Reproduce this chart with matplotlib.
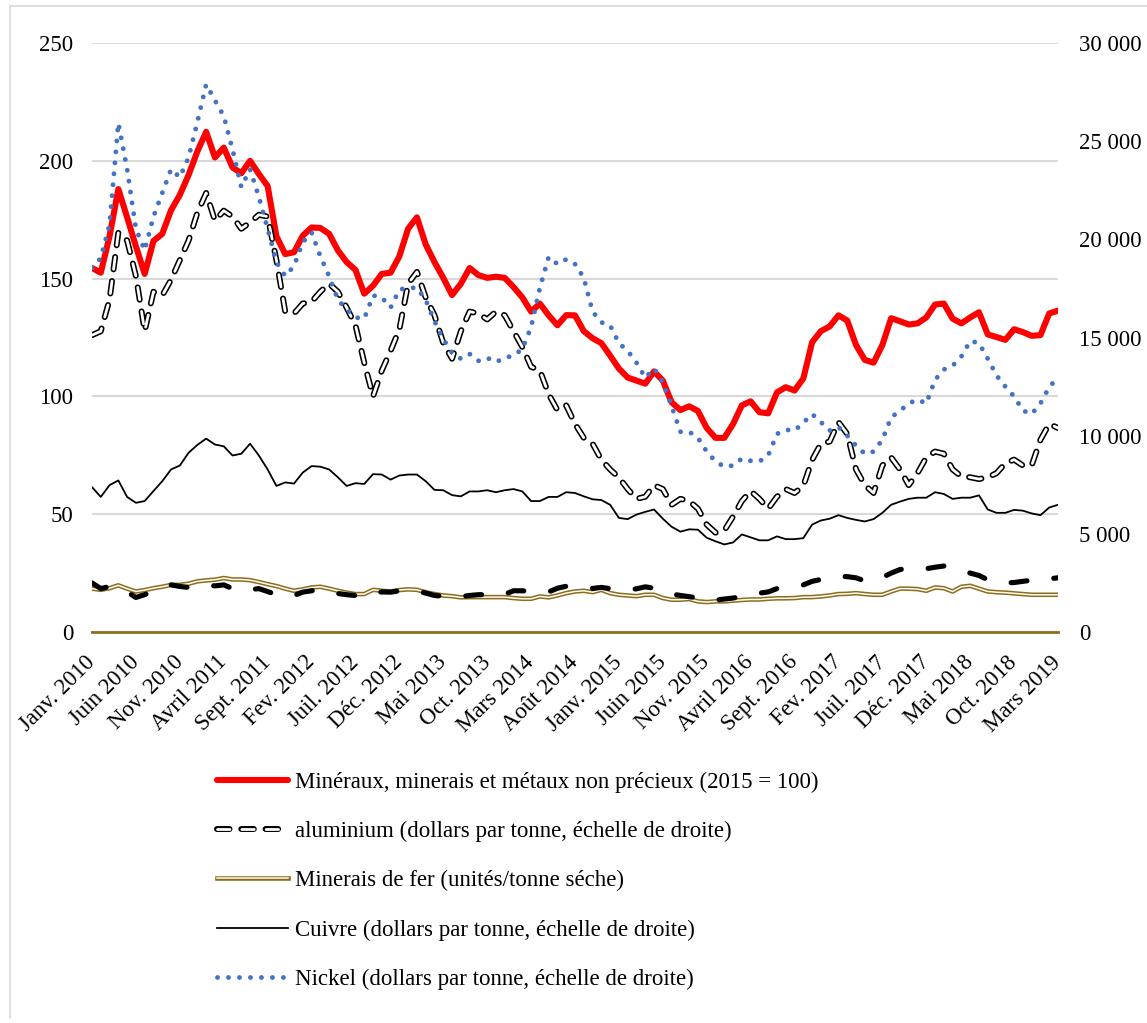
import matplotlib
matplotlib.use('Agg')
import matplotlib.pyplot as plt
import matplotlib.patheffects as pe
from matplotlib.transforms import ScaledTranslation
from matplotlib.lines import Line2D

plt.rcParams['font.family'] = ['Liberation Serif', 'DejaVu Serif']
plt.rcParams['lines.scale_dashes'] = False

# Tick labels every 5 months (Jan 2010 .. Mar 2019, 111 months)
tick_labels = ["Janv. 2010", "Juin 2010", "Nov. 2010", "Avril 2011", "Sept. 2011",
               "Fev. 2012", "Juil. 2012", "Déc. 2012", "Mai 2013", "Oct. 2013",
               "Mars 2014", "Août 2014", "Janv. 2015", "Juin 2015", "Nov. 2015",
               "Avril 2016", "Sept. 2016", "Fev. 2017", "Juil. 2017", "Déc. 2017",
               "Mai 2018", "Oct. 2018", "Mars 2019"]

# Left axis (index 2015 = 100)
mineraux = [154.5, 152.5, 168, 188, 176, 163.7, 152, 166, 169, 179,
            185.5, 194, 204, 212.3, 201.4, 205.6, 197.2, 194.7, 200, 194.4,
            189.3, 168, 160.4, 161.2, 168.2, 171.7, 171.5, 169, 162, 157,
            153.7, 143.6, 147, 152, 152.5, 159.5, 171.2, 176, 164.5, 157,
            150.3, 143, 147.8, 154.5, 151.5, 150.3, 150.8, 150.3, 146.4, 142,
            136, 139.4, 134.4, 130.2, 134.5, 134.4, 127.7, 124.7, 122.6, 117.3,
            111.8, 108, 106.7, 105.4, 110.6, 106.7, 97.5, 94.2, 95.8, 93.8,
            86.6, 82.4, 82.4, 88.3, 96.2, 97.9, 93.3, 92.8, 101.7, 103.9,
            102.5, 107.6, 123, 127.7, 129.7, 134.4, 132.2, 121.8, 115.5, 114.3,
            121.8, 133.2, 131.9, 130.5, 131, 133.5, 139, 139.4, 133, 131,
            133.5, 135.7, 126.3, 125.2, 124, 128.5, 127.3, 125.7, 126, 135.2, 136.4]

# Left axis
minerais_fer = [18.4, 17.9, 18.6, 19.8, 18.4, 17.2, 17.8, 18.6, 19.2, 20,
                20, 20.5, 21.5, 21.9, 22.2, 22.9, 22.3, 22.3, 22, 21.2,
                20.3, 19.5, 18.4, 17.5, 18.1, 18.9, 19.2, 18.4, 17.5, 16.7,
                16.1, 16.1, 17.9, 17.5, 17.2, 17.8, 18.1, 17.9, 16.9, 16.1,
                15.5, 15.2, 14.7, 14.8, 14.8, 14.8, 14.8, 14.8, 14.4, 14.1,
                14.1, 15.1, 14.7, 15.5, 16.5, 17.2, 17.5, 16.9, 17.9, 16.5,
                15.8, 15.5, 15.2, 15.8, 15.8, 14.4, 13.7, 13.7, 14, 13,
                12.7, 13, 13, 13.3, 13.6, 13.8, 13.8, 14.1, 14.3, 14.3,
                14.4, 14.8, 14.8, 15.1, 15.5, 16.1, 16.2, 16.5, 16.1, 15.8,
                15.8, 17.2, 18.4, 18.4, 18.2, 17.5, 18.9, 18.6, 17.2, 19.2,
                19.6, 18.4, 17.2, 16.9, 16.7, 16.4, 16.1, 15.8, 15.8, 15.8, 15.8]

# Right axis (dollars per tonne)
aluminium = [15120, 15320, 16930, 20350, 19940, 18130, 15320, 17330, 17140, 17940,
             18940, 19940, 21360, 22360, 20950, 21460, 21160, 20540, 20860, 21250,
             21160, 18940, 16320, 16220, 16730, 16820, 17330, 17740, 17330, 16520,
             15620, 13720, 12000, 13320, 14320, 15420, 17740, 18340, 17040, 16130,
             14720, 13920, 15320, 16320, 16220, 15920, 16320, 16130, 15320, 14520,
             13510, 13320, 12110, 11300, 11540, 10600, 9890, 9590, 8780, 8280,
             7870, 7280, 6780, 6890, 7480, 7280, 6480, 6780, 6670, 6280,
             5470, 5060, 5170, 5880, 6670, 7180, 6780, 6280, 6890, 7280,
             7080, 7440, 8760, 9590, 9700, 10690, 10090, 8280, 7480, 7080,
             8480, 8890, 8280, 7480, 8090, 8890, 9190, 9080, 8280, 7920,
             7880, 7790, 7880, 8090, 8590, 8780, 8480, 8480, 9790, 10600, 10390]

cuivre = [7380, 6880, 7480, 7720, 6880, 6580, 6670, 7180, 7680, 8280,
          8480, 9130, 9530, 9850, 9550, 9460, 8990, 9080, 9590, 8990,
          8280, 7440, 7620, 7560, 8120, 8450, 8420, 8280, 7880, 7440,
          7580, 7540, 8040, 8020, 7760, 7970, 8020, 8020, 7680, 7240,
          7220, 6970, 6910, 7160, 7160, 7220, 7120, 7220, 7280, 7160,
          6670, 6670, 6880, 6880, 7120, 7080, 6910, 6760, 6720, 6480,
          5810, 5750, 5980, 6120, 6240, 5770, 5360, 5110, 5230, 5210,
          4800, 4620, 4460, 4560, 4970, 4820, 4670, 4670, 4870, 4730,
          4730, 4780, 5470, 5680, 5770, 5950, 5810, 5710, 5630, 5750,
          6070, 6480, 6640, 6780, 6840, 6840, 7120, 7030, 6780, 6840,
          6840, 6960, 6240, 6070, 6070, 6220, 6180, 6040, 5950, 6340, 6480]

nickel = [18540, 19040, 20760, 25920, 23570, 20540, 19440, 21160, 22360, 23570,
          23160, 24170, 25980, 27890, 27080, 26280, 24580, 22660, 23570, 22160,
          20540, 18840, 18130, 18640, 19850, 20350, 19140, 18120, 16920, 16430,
          16020, 15960, 17140, 17040, 16520, 17440, 17530, 17530, 16920, 15830,
          14920, 14220, 13920, 14160, 13810, 13960, 13750, 13960, 14080, 14410,
          15530, 17530, 19100, 18740, 18980, 18740, 18040, 16320, 15770, 15620,
          14710, 14320, 13720, 12950, 13420, 12710, 11500, 10200, 10200, 9890,
          9190, 8690, 8420, 8480, 8830, 8720, 8690, 8990, 10090, 10300,
          10260, 10660, 11100, 10690, 10260, 10440, 10000, 9490, 9080, 9190,
          9790, 10940, 11260, 11640, 11840, 11640, 12840, 13370, 13560, 14040,
          14820, 14720, 13920, 13070, 12500, 12000, 11280, 11100, 11640, 12480, 12960]

# Unlabelled thick dashed series (right axis)
serie_sans_legende = [2500, 2210, 2320, 2160, 2040, 1760, 1900, 2100, 2280, 2400,
                      2320, 2270, 2340, 2400, 2350, 2400, 2210, 2100, 2160, 2210,
                      2060, 1900, 1800, 1860, 2030, 2100, 2140, 2040, 1960, 1900,
                      1860, 1810, 1980, 2040, 2030, 2100, 2150, 2100, 1980, 1860,
                      1820, 1800, 1800, 1860, 1900, 1900, 1860, 1920, 2100, 2100,
                      2060, 2030, 2040, 2230, 2330, 2350, 2280, 2220, 2270, 2210,
                      2170, 2150, 2200, 2300, 2230, 2140, 1940, 1860, 1800, 1730,
                      1660, 1620, 1680, 1730, 1810, 1900, 1980, 2040, 2210, 2270,
                      2340, 2400, 2580, 2680, 2750, 2830, 2820, 2760, 2600, 2640,
                      2780, 3000, 3180, 3250, 3250, 3220, 3300, 3360, 3290, 3170,
                      3000, 2880, 2660, 2580, 2500, 2520, 2580, 2640, 2640, 2710, 2760]

labels = ["Minéraux, minerais et métaux non précieux (2015 = 100)",
          "aluminium (dollars par tonne, échelle de droite)",
          "Minerais de fer (unités/tonne séche)",
          "Cuivre (dollars par tonne, échelle de droite)",
          "Nickel (dollars par tonne, échelle de droite)"]

W, H = 1147, 1023
fig = plt.figure(figsize=(W / 100, H / 100), dpi=100)
ax = fig.add_axes([92 / W, 1 - 632 / H, (1058 - 92) / W, (632 - 43) / H])
ax2 = ax.twinx()

x = list(range(len(mineraux)))
GOLD = '#8C6D1F'
FS = 16.5

l_min, = ax.plot(x, mineraux, color='#FF0000', lw=4.4, solid_joinstyle='round',
                 solid_capstyle='round', label=labels[0])
l_fer, = ax.plot(x, minerais_fer, color='#FFFDF2', lw=1.1, solid_joinstyle='round',
                 path_effects=[pe.Stroke(linewidth=3.3, foreground=GOLD), pe.Normal()],
                 label=labels[2])

l_alu, = ax2.plot(x, aluminium, color='white', lw=2.0, linestyle=(0, (9.0, 8.5)),
                  dash_capstyle='round', dash_joinstyle='round',
                  path_effects=[pe.Stroke(linewidth=4.3, foreground='black'), pe.Normal()],
                  label=labels[1])
ax2.plot(x, serie_sans_legende, color='black', lw=3.7, linestyle=(0, (11.5, 19.4)),
         dash_capstyle='round', label='_nolegend_')
l_cu, = ax2.plot(x, cuivre, color='black', lw=1.3, solid_joinstyle='round', label=labels[3])
l_ni, = ax2.plot(x, nickel, color='#4472C4', lw=3.5, linestyle=(0, (0.01, 7.9)),
                 dash_capstyle='round', label=labels[4])

ax.set_xlim(0, 110)
ax.set_ylim(0, 250)
ax2.set_ylim(0, 30000)
ax.set_yticks([0, 50, 100, 150, 200, 250])
ax2.set_yticks([0, 5000, 10000, 15000, 20000, 25000, 30000])
ax2.set_yticklabels([f"{v:,}".replace(',', ' ') for v in [0, 5000, 10000, 15000, 20000, 25000, 30000]])

ax.set_xticks(list(range(0, 111, 5)))
ax.set_xticklabels(tick_labels, rotation=45, ha='right', va='center',
                   rotation_mode='anchor', fontsize=FS)
off = ScaledTranslation(7 / 100, 0, fig.dpi_scale_trans)
for lab in ax.get_xticklabels():
    lab.set_transform(lab.get_transform() + off)

ax.tick_params(axis='x', length=0, pad=19.5, labelsize=FS, colors='black')
ax.tick_params(axis='y', length=0, pad=13.5, labelsize=FS, colors='black')
ax2.tick_params(axis='y', length=0, pad=15, labelsize=FS, colors='black')

ax.yaxis.grid(True, color='#D9D9D9', lw=1.5)
ax.set_axisbelow(True)
for s in ['left', 'right', 'top']:
    ax.spines[s].set_visible(False)
ax.spines['bottom'].set_color(GOLD)
ax.spines['bottom'].set_linewidth(2)
for s in ax2.spines.values():
    s.set_visible(False)

fig.legend([l_min, l_alu, l_fer, l_cu, l_ni], labels, loc='upper left',
           bbox_to_anchor=(217 / W, 1 - 772 / H), frameon=False, fontsize=FS,
           handlelength=3.1, handletextpad=0.3, labelspacing=1.22,
           borderpad=0, borderaxespad=0)

# outer chart border
fig.add_artist(Line2D([10 / W, 10 / W], [1 - 1018 / H, 1 - 6 / H], color='#D9D9D9',
                      lw=1.2, transform=fig.transFigure))
fig.add_artist(Line2D([10 / W, 1], [1 - 6 / H, 1 - 6 / H], color='#D9D9D9',
                      lw=1.2, transform=fig.transFigure))

fig.savefig('out.png', dpi=100)
